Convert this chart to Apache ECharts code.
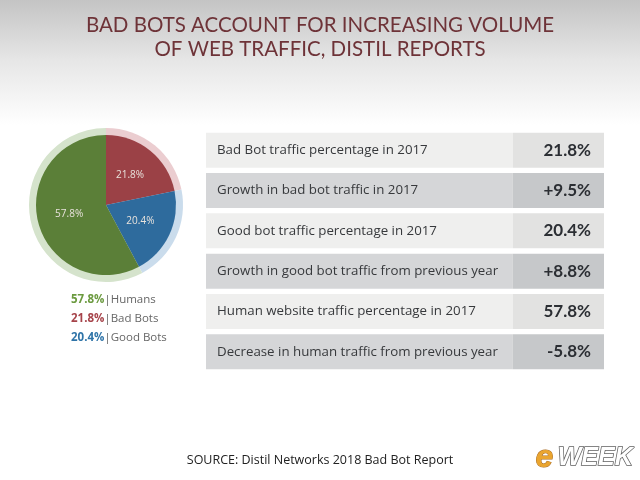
<!DOCTYPE html>
<html lang="en">
<head>
<meta charset="UTF-8">
<title>Bad bots</title>
<script src="https://cdn.jsdelivr.net/npm/echarts@6/dist/echarts.min.js"></script>
<style>
  html, body { margin: 0; padding: 0; }
  #main {
    width: 640px; height: 480px;
    background: linear-gradient(to bottom, #c4c4c4 0px, #e6e6e6 60px, #ffffff 125px, #ffffff 480px);
  }
</style>
</head>
<body>
<div id="main"></div>
<script>
// pie data
var sliceNames = ['Bad Bots', 'Good Bots', 'Humans'];
var sliceValues = [21.8, 20.4, 57.8];
var sliceColors = ['#9b4146', '#2e6b9d', '#5b7f38'];
var ringColors = ['#ebcdd0', '#cadcec', '#d5e3cc'];
var legendColors = { 'Humans': '#6b9a3f', 'Bad Bots': '#a6434a', 'Good Bots': '#2f74a8' };

// table rows
var rowLabels = [
  'Bad Bot traffic percentage in 2017',
  'Growth in bad bot traffic in 2017',
  'Good bot traffic percentage in 2017',
  'Growth in good bot traffic from previous year',
  'Human website traffic percentage in 2017',
  'Decrease in human traffic from previous year'
];
var rowValues = ['21.8%', '+9.5%', '20.4%', '+8.8%', '57.8%', '-5.8%'];
var labelShare = 0.771; // width of the text cell, as share of the row

var chart = echarts.init(document.getElementById('main'));

var pieData = sliceNames.map(function (n, i) {
  return { name: n, value: sliceValues[i], itemStyle: { color: sliceColors[i] } };
});
var ringData = sliceNames.map(function (n, i) {
  return { name: n + ' ', value: sliceValues[i], itemStyle: { color: ringColors[i] } };
});

var leftCells = rowLabels.map(function (t, i) {
  return { value: labelShare, itemStyle: { color: i % 2 ? '#d5d6d8' : '#efefee' } };
});
var rightCells = rowValues.map(function (t, i) {
  return { value: 1 - labelShare, itemStyle: { color: i % 2 ? '#c6c8ca' : '#e2e2e1' } };
});

var option = {
  backgroundColor: 'transparent',
  animation: false,
  title: {
    text: 'BAD BOTS ACCOUNT FOR INCREASING VOLUME\nOF WEB TRAFFIC, DISTIL REPORTS',
    left: 'center',
    top: 8,
    textStyle: {
      color: '#6e3338', fontSize: 20.5, fontWeight: 'normal',
      fontFamily: 'Lato', lineHeight: 24, align: 'center'
    }
  },
  legend: {
    orient: 'vertical',
    left: 61,
    top: 289,
    itemWidth: 0,
    itemHeight: 0,
    itemGap: 7,
    icon: 'none',
    selectedMode: false,
    data: ['Humans', 'Bad Bots', 'Good Bots'],
    formatter: function (name) {
      var v = sliceValues[sliceNames.indexOf(name)];
      var key = name === 'Humans' ? 'g' : (name === 'Bad Bots' ? 'r' : 'b');
      return '{' + key + '|' + v + '%}{s||' + name + '}';
    },
    textStyle: {
      fontFamily: 'Open Sans',
      rich: {
        g: { color: legendColors['Humans'], fontWeight: 'bold', fontSize: 11.5, fontFamily: 'Open Sans' },
        r: { color: legendColors['Bad Bots'], fontWeight: 'bold', fontSize: 11.5, fontFamily: 'Open Sans' },
        b: { color: legendColors['Good Bots'], fontWeight: 'bold', fontSize: 11.5, fontFamily: 'Open Sans' },
        s: { color: '#666666', fontSize: 11.5, fontFamily: 'Open Sans' }
      }
    }
  },
  grid: { left: 206, right: 36, top: 130, bottom: 108 },
  xAxis: { type: 'value', min: 0, max: 1, show: false },
  yAxis: {
    type: 'category', data: rowLabels, inverse: true, show: false
  },
  series: [
    {
      type: 'pie', z: 1, silent: true,
      center: [106, 205], radius: [0, 77],
      startAngle: 90, clockwise: true,
      label: { show: false }, labelLine: { show: false },
      data: ringData
    },
    {
      type: 'pie', z: 2, silent: true,
      center: [106, 205], radius: [0, 70],
      startAngle: 90, clockwise: true,
      label: {
        show: true, position: 'inside',
        formatter: '{c}%', color: '#e8e2dc', fontSize: 10, fontFamily: 'Open Sans'
      },
      labelLine: { show: false },
      data: pieData
    },
    {
      type: 'bar', stack: 'row', barWidth: 35, silent: true,
      data: leftCells,
      label: {
        show: true, position: 'insideLeft', distance: 11,
        formatter: function (p) { return rowLabels[p.dataIndex]; },
        color: '#37393c', fontSize: 13.3, fontFamily: 'Open Sans'
      }
    },
    {
      type: 'bar', stack: 'row', barWidth: 35, silent: true,
      data: rightCells,
      label: {
        show: true, position: 'insideRight', distance: 13,
        formatter: function (p) { return rowValues[p.dataIndex]; },
        color: '#2b2e33', fontSize: 17, fontWeight: 'bold', fontFamily: 'Lato'
      }
    }
  ],
  graphic: [
    {
      type: 'text', left: 'center', top: 454,
      style: {
        text: 'SOURCE: Distil Networks 2018 Bad Bot Report',
        fill: '#222222', fontSize: 12.5, fontFamily: 'Open Sans'
      }
    },
    {
      type: 'text', left: 535, top: 442,
      style: {
        text: 'e', fill: '#eaa52f', fontSize: 32, fontWeight: 'bold',
        fontStyle: 'italic', fontFamily: 'Liberation Sans',
        stroke: '#a86a22', lineWidth: 1,
        shadowColor: 'rgba(0,0,0,0.6)', shadowBlur: 2, shadowOffsetX: 2, shadowOffsetY: 2
      }
    },
    {
      type: 'text', left: 557, top: 445,
      style: {
        text: 'WEEK', fill: '#ffffff', fontSize: 25, fontWeight: 'bold',
        fontStyle: 'italic', fontFamily: 'Liberation Sans',
        stroke: '#5f5f5f', lineWidth: 1.5,
        shadowColor: 'rgba(0,0,0,0.7)', shadowBlur: 2, shadowOffsetX: 2, shadowOffsetY: 2
      }
    }
  ]
};

chart.setOption(option);
</script>
</body>
</html>
